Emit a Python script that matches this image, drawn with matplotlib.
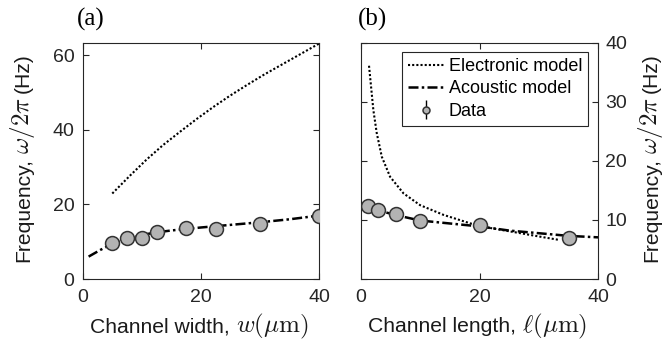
import matplotlib
matplotlib.use("Agg")
import matplotlib.pyplot as plt

# ---------------- data ----------------
# Panel (a): channel width
a_elec_x = [5, 8.0, 10.8, 13.6, 16.5, 19.3, 22.1, 24.9, 27.7, 30.5, 33.4, 36.2, 40]
a_elec_y = [22.9, 27.7, 32.0, 35.9, 39.5, 42.9, 46.1, 49.1, 51.9, 54.6, 57.2, 59.7, 63.1]
a_acou_x = [1, 2, 3, 4, 5, 7.5, 10, 12.5, 15, 20, 25, 30, 35, 40]
a_acou_y = [6.0, 6.9, 7.8, 8.6, 9.4, 10.7, 11.8, 12.5, 13.0, 13.8, 14.5, 15.2, 16.0, 17.0]
a_data_x = [5, 7.5, 10, 12.5, 17.5, 22.5, 30, 40]
a_data_y = [9.55, 11.07, 10.9, 12.5, 13.75, 13.3, 14.65, 17.0]
a_data_err = [0, 0, 0, 0, 0, 0, 0, 0]

# Panel (b): channel length
b_elec_x = [1.4, 1.74, 2.13, 2.7, 3.55, 4.95, 7.2, 10.0, 13.95, 18.5, 22, 26.9, 30, 33.5]
b_elec_y = [36.1, 32.6, 28.6, 24.7, 20.7, 17.3, 14.5, 12.5, 10.85, 9.4, 8.6, 7.75, 7.2, 6.6]
b_acou_x = [1.3, 3, 6, 10, 15, 20, 25, 30, 35, 40]
b_acou_y = [12.3, 11.6, 10.8, 9.9, 9.4, 8.9, 8.2, 7.75, 7.3, 7.05]
b_data_x = [1.3, 2.9, 5.9, 10, 20, 35]
b_data_y = [12.4, 11.7, 11.0, 9.9, 9.1, 7.0]
b_data_err = [0, 0, 0, 0, 0, 0]

xticks = [0, 20, 40]
a_yticks = [0, 20, 40, 60]
b_yticks = [0, 10, 20, 30, 40]

legend_labels = ['Electronic model', 'Acoustic model', 'Data']
xlabel_a = ['Channel width,', r'$w(\mu\mathrm{m})$']
xlabel_b = ['Channel length,', r'$\ell(\mu\mathrm{m})$']
ylabel_parts = ['Frequency,', r'$\omega/2\pi$', '(Hz)']

# ---------------- style ----------------
plt.rcParams['font.family'] = ['Liberation Sans', 'DejaVu Sans']
plt.rcParams['mathtext.fontset'] = 'cm'
TICK_FS = 14
LAB_FS = 15.2
MATH_FS = 18
LEG_FS = 13
AX_COL = '#262626'
TXT_COL = '#1a1a1a'
MFC = '#b3b3b3'
MEC = '#333333'

fig = plt.figure(figsize=(6.68, 3.41), dpi=100)
W, H = 668, 341

def add_axes(l, r, t, b):
    return fig.add_axes([l / W, 1 - b / H, (r - l) / W, (b - t) / H])

axA = add_axes(82.7, 319.3, 42.7, 279.0)
axB = add_axes(360.7, 598.3, 42.7, 279.0)

elec_kw = dict(color='black', lw=1.5, linestyle=(0, (1.0, 1.0)))
acou_kw = dict(color='black', lw=1.8, linestyle=(0, (4.0, 1.3, 1.0, 1.3)))
data_kw = dict(fmt='o', ms=10, mfc=MFC, mec=MEC, mew=1.1, ecolor='black',
               elinewidth=1.0, capsize=0)

def style(ax, yticks, ylim, right=False):
    ax.set_xlim(0, 40)
    ax.set_ylim(*ylim)
    ax.set_xticks(xticks)
    ax.set_yticks(yticks)
    for s in ax.spines.values():
        s.set_color(AX_COL)
        s.set_linewidth(0.8)
    ax.tick_params(direction='in', length=4, width=0.8, color=AX_COL,
                   labelcolor=AX_COL, labelsize=TICK_FS, top=True, right=True,
                   left=True, bottom=True)
    ax.tick_params(axis='x', pad=7)
    ax.tick_params(axis='y', pad=6)
    if right:
        ax.yaxis.tick_right()
        ax.tick_params(axis='y', left=True, right=True, labelleft=False,
                       labelright=True, pad=5)

# Panel (a)
axA.plot(a_elec_x, a_elec_y, **elec_kw)
axA.plot(a_acou_x, a_acou_y, **acou_kw)
axA.errorbar(a_data_x, a_data_y, yerr=a_data_err, zorder=3, **data_kw)
style(axA, a_yticks, (0, 63.3))

# Panel (b)
l1, = axB.plot(b_elec_x, b_elec_y, **elec_kw)
l2, = axB.plot(b_acou_x, b_acou_y, **acou_kw)
eb = axB.errorbar(b_data_x, b_data_y, yerr=b_data_err, zorder=3, **data_kw)
style(axB, b_yticks, (0, 40), right=True)

leg = axB.legend([l1, l2, eb], legend_labels,
                 loc='upper right', bbox_to_anchor=(0.958, 0.962),
                 borderaxespad=0, fontsize=LEG_FS, frameon=True, fancybox=False,
                 edgecolor=AX_COL, framealpha=1, handlelength=2.0,
                 handletextpad=0.25, labelspacing=0.3, borderpad=0.35,
                 markerscale=0.5)
leg.get_frame().set_linewidth(0.8)

# ---------------- composite axis labels (text + larger math) ----------------
renderer = fig.canvas.get_renderer()

def piece_size(s):
    return MATH_FS if s.startswith('$') else LAB_FS

def chain_h(parts, xc, base, gap=6.0):
    texts = [fig.text(0, 0, s, fontsize=piece_size(s), ha='left', va='baseline',
                      color=TXT_COL) for s in parts]
    widths = [t.get_window_extent(renderer).width for t in texts]
    total = sum(widths) + gap * (len(parts) - 1)
    x = xc - total / 2
    for t, w in zip(texts, widths):
        t.set_position((x / W, 1 - base / H))
        x += w + gap

def chain_v(parts, xb, yc, gap=4.0):
    texts = [fig.text(0, 0, s, fontsize=piece_size(s), ha='left', va='baseline',
                      rotation=90, rotation_mode='anchor', color=TXT_COL)
             for s in parts]
    lens = [t.get_window_extent(renderer).height for t in texts]
    total = sum(lens) + gap * (len(parts) - 1)
    y = yc + total / 2  # px from top, bottom start
    for t, L in zip(texts, lens):
        t.set_position((xb / W, 1 - y / H))
        y -= L + gap

chain_h(xlabel_a, 199, 332.5)
chain_h(xlabel_b, 478, 332.5)
chain_v(ylabel_parts, 29, 158)
chain_v(ylabel_parts, 657, 158)

fig.text(77 / W, 1 - 8 / H, '(a)', family='Liberation Serif', fontsize=18,
         va='top', ha='left', color='black')
fig.text(358 / W, 1 - 8 / H, '(b)', family='Liberation Serif', fontsize=18,
         va='top', ha='left', color='black')

fig.savefig('out.png', dpi=100)
